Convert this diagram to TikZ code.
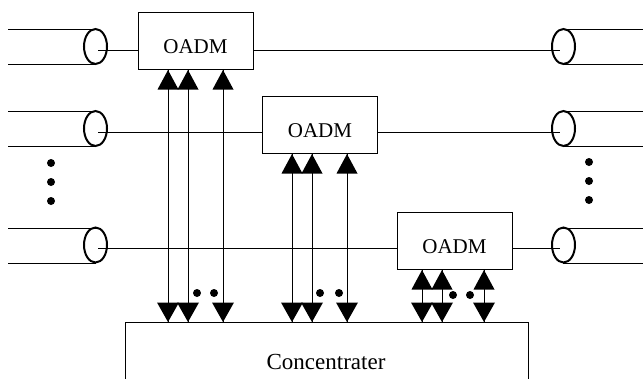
\documentclass[tikz,border=0pt]{standalone}
\usepackage{fontspec}
\setmainfont{Liberation Serif}
\usetikzlibrary{arrows.meta}
\begin{document}
\begin{tikzpicture}[x=1pt,y=-1pt,
  thinline/.style={line width=1pt},
  cylline/.style={line width=1pt},
  cylend/.style={line width=2pt},
  box/.style={draw, line width=1pt, minimum width=115pt, inner sep=0pt,
    text height=41pt, text depth=16pt, font=\fontsize{21}{21}\selectfont, anchor=north},
  dbl/.style={line width=1pt},
  headfill/.style={fill=black},
  dotstyle/.style={fill=black}
]
\useasboundingbox (0,0) rectangle (643,378);
\clip (0,0) rectangle (643,378);

% OADM boxes
\node[box] (b1) at (195.5,12) {OADM};
\node[box] (b2) at (320,96) {OADM};
\node[box] (b3) at (454.5,212) {OADM};

% Concentrater
\node[draw, line width=1pt, minimum width=403pt, minimum height=120pt, inner sep=0pt, anchor=north west] (conc) at (125,322) {};
\node[font=\fontsize{23}{23}\selectfont, anchor=base, inner sep=0pt] (conctext) at (326,369) {Concentrater};

% cylinders (left and right)
\foreach \yc/\yt/\yb in {46.5/29/64, 128.5/111/146, 245/228/263}{
  \draw[cylline] (8,\yt) -- (96,\yt) (8,\yb) -- (96,\yb);
  \draw[cylend] (95.5,\yc) ellipse [x radius=11.5pt, y radius=17.5pt];
  \draw[cylline] (563,\yt) -- (643,\yt) (563,\yb) -- (643,\yb);
  \draw[cylend] (563.5,\yc) ellipse [x radius=11.5pt, y radius=17.5pt];
}

% row fibres
\coordinate (L1) at (98,50);  \coordinate (R1) at (560,50);
\coordinate (L2) at (98,132); \coordinate (R2) at (560,132);
\coordinate (L3) at (98,248); \coordinate (R3) at (560,248);
\draw[thinline] (L1) -- (L1 -| b1.west);
\draw[thinline] (b1.east |- R1) -- (R1);
\draw[thinline] (L2) -- (L2 -| b2.west);
\draw[thinline] (b2.east |- R2) -- (R2);
\draw[thinline] (L3) -- (L3 -| b3.west);
\draw[thinline] (b3.east |- R3) -- (R3);

% add/drop connections with triangular heads at both ends
\foreach \n/\x/\b in {a11/168/b1, a12/188/b1, a13/223/b1,
                      a21/292/b2, a22/312/b2, a23/347/b2,
                      a31/422/b3, a32/442/b3, a33/484/b3}{
  \coordinate (\n) at (\x,0);
  \draw[dbl] (\n |- \b.south) -- (\n |- conc.north);
  \fill[headfill] (\n |- \b.south) -- ++(-10.5,19.5) -- ++(21,0) -- cycle;
  \fill[headfill] (\n |- conc.north) -- ++(-11,-19.5) -- ++(22,0) -- cycle;
}

% dots
\foreach \x/\y in {197/293, 214/293, 320/293, 339/293, 453/295, 470/295,
                   51/163, 51/182, 51/201, 589/162, 589/181, 589/200}{
  \fill[dotstyle] (\x,\y) circle (4pt);
}
\end{tikzpicture}
\end{document}
